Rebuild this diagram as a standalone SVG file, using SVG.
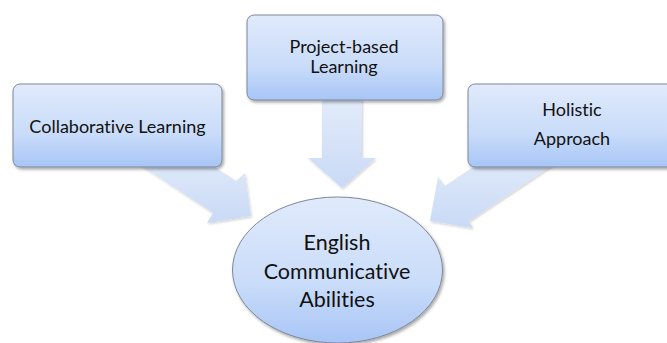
<svg xmlns="http://www.w3.org/2000/svg" width="667" height="343" viewBox="0 0 667 343">
  <defs>
    <linearGradient id="boxGrad" x1="0" y1="0" x2="0" y2="1">
      <stop offset="0" stop-color="#e0eafb"/>
      <stop offset="0.6" stop-color="#c9dcf9"/>
      <stop offset="1" stop-color="#a7c5f6"/>
    </linearGradient>
    <linearGradient id="arrowGrad" x1="0" y1="0" x2="0" y2="1">
      <stop offset="0" stop-color="#e2ebf9"/>
      <stop offset="1" stop-color="#c9daf6"/>
    </linearGradient>
    <filter id="shadow" x="-10%" y="-10%" width="125%" height="130%">
      <feDropShadow dx="1.5" dy="2" stdDeviation="1.5" flood-color="#000" flood-opacity="0.35"/>
    </filter>
    <filter id="ashadow" x="-10%" y="-10%" width="125%" height="130%">
      <feDropShadow dx="1" dy="1.5" stdDeviation="1.2" flood-color="#000" flood-opacity="0.18"/>
    </filter>
  </defs>
  <style>
    .box { fill: url(#boxGrad); stroke: #7d8898; stroke-width: 1; filter: url(#shadow); }
    .arrow { fill: url(#arrowGrad); stroke: none; filter: url(#ashadow); }
    .lbl { font-family: Lato, "Open Sans", "Liberation Sans", sans-serif; font-size: 18px; fill: #111111; text-anchor: middle; font-variant-ligatures: none; }
    .big { font-size: 21.5px; }
  </style>
  <rect width="667" height="343" fill="#ffffff"/>

  <g id="connectors">
    <polygon class="arrow" points="118,150 189,150 236,181 245,173 251,216 207,223 213,213"/>
    <polygon class="arrow" points="322,98 362,98 362,158 376,158 342,188 308,158 322,158"/>
    <polygon class="arrow" points="498,150 575,150 469,221 473,228 430,221 438,177 445,186"/>
  </g>

  <g id="collaborative">
    <rect class="box" x="13" y="84" width="209" height="83" rx="7"/>
    <text class="lbl" x="117.5" y="133" font-size="18.5">Collaborative Learning</text>
  </g>

  <g id="project">
    <rect class="box" x="247" y="15" width="196" height="85" rx="7"/>
    <text class="lbl" x="344" y="53" font-size="17">Project-based</text>
    <text class="lbl" x="344" y="73" font-size="17">Learning</text>
  </g>

  <g id="holistic">
    <rect class="box" x="468" y="84" width="210" height="83" rx="7"/>
    <text class="lbl" x="572" y="116">Holistic</text>
    <text class="lbl" x="572" y="145">Approach</text>
  </g>

  <g id="english">
    <ellipse class="box" cx="337.5" cy="270" rx="105" ry="73"/>
    <text class="lbl big" x="337" y="250">English</text>
    <text class="lbl big" x="337" y="279">Communicative</text>
    <text class="lbl big" x="337" y="307">Abilities</text>
  </g>
</svg>
